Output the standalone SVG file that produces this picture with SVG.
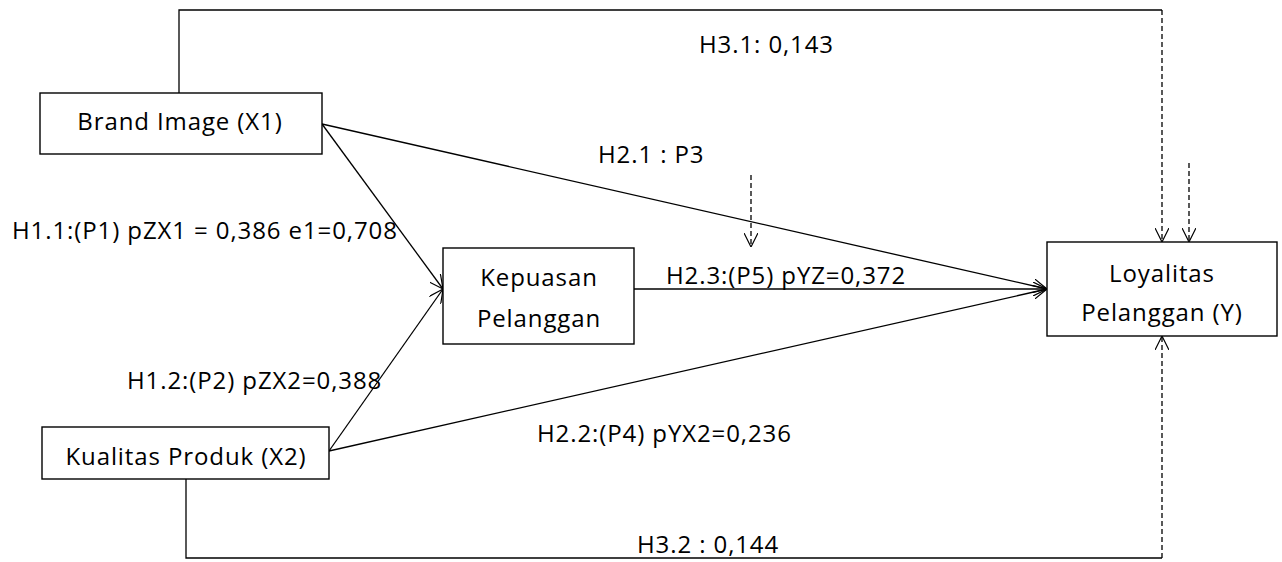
<svg xmlns="http://www.w3.org/2000/svg" width="1282" height="562" viewBox="0 0 1282 562">
<style>
  .box { fill: #fff; stroke: #000; stroke-width: 1.4; }
  .lbl { font-family: "Open Sans", "Liberation Sans", sans-serif; font-size: 24px; letter-spacing: 0.9px; fill: #000; }
  .mid { text-anchor: middle; }
  .ln { fill: none; stroke: #000; stroke-width: 1.3; }
  .dash { fill: none; stroke: #000; stroke-width: 1.3; stroke-dasharray: 5 3; }
</style>
<defs>
  <marker id="arr" viewBox="0 0 14 14" refX="14" refY="7" markerWidth="14" markerHeight="14" markerUnits="userSpaceOnUse" orient="auto">
    <path d="M0,0 L14,7 L0,14" fill="none" stroke="#000" stroke-width="1.2"/>
  </marker>
</defs>
<rect width="1282" height="562" fill="#fff"/>
<g id="connectors">
  <line class="ln" x1="322" y1="124" x2="443" y2="289" marker-end="url(#arr)"/>
  <line class="ln" x1="329" y1="451" x2="443" y2="289" marker-end="url(#arr)"/>
  <line class="ln" x1="322" y1="124" x2="1047" y2="289" marker-end="url(#arr)"/>
  <line class="ln" x1="634" y1="289" x2="1047" y2="289" marker-end="url(#arr)"/>
  <line class="ln" x1="329" y1="451" x2="1047" y2="289" marker-end="url(#arr)"/>
  <polyline class="ln" points="179,93 179,10 1162,10"/>
  <line class="dash" x1="1162" y1="10" x2="1162" y2="242" marker-end="url(#arr)"/>
  <line class="dash" x1="1189" y1="163" x2="1189" y2="242" marker-end="url(#arr)"/>
  <line class="dash" x1="751" y1="175" x2="751" y2="247" marker-end="url(#arr)"/>
  <polyline class="ln" points="186,479 186,558 1162,558"/>
  <line class="dash" x1="1162" y1="558" x2="1162" y2="336" marker-end="url(#arr)"/>
</g>
<g id="labels">
  <text class="lbl" x="12" y="239">H1.1:(P1) pZX1 = 0,386 e1=0,708</text>
  <text class="lbl" x="127" y="389">H1.2:(P2) pZX2=0,388</text>
  <text class="lbl" x="537" y="442">H2.2:(P4) pYX2=0,236</text>
  <text class="lbl" x="699" y="53">H3.1: 0,143</text>
  <text class="lbl" x="598" y="163">H2.1 : P3</text>
  <text class="lbl" x="666" y="284">H2.3:(P5) pYZ=0,372</text>
  <text class="lbl" x="637" y="553">H3.2 : 0,144</text>
</g>
<g id="brand-image">
  <rect class="box" x="40" y="93" width="282" height="61"/>
  <text class="lbl mid" x="180" y="130">Brand Image (X1)</text>
</g>
<g id="kualitas-produk">
  <rect class="box" x="42" y="427" width="287" height="52"/>
  <text class="lbl mid" x="186" y="465">Kualitas Produk (X2)</text>
</g>
<g id="kepuasan-pelanggan">
  <rect class="box" x="443" y="248" width="191" height="96"/>
  <text class="lbl mid" x="539" y="286">Kepuasan</text>
  <text class="lbl mid" x="539" y="327">Pelanggan</text>
</g>
<g id="loyalitas-pelanggan">
  <rect class="box" x="1047" y="242" width="230" height="94"/>
  <text class="lbl mid" x="1162" y="282">Loyalitas</text>
  <text class="lbl mid" x="1162" y="321">Pelanggan (Y)</text>
</g>
</svg>
